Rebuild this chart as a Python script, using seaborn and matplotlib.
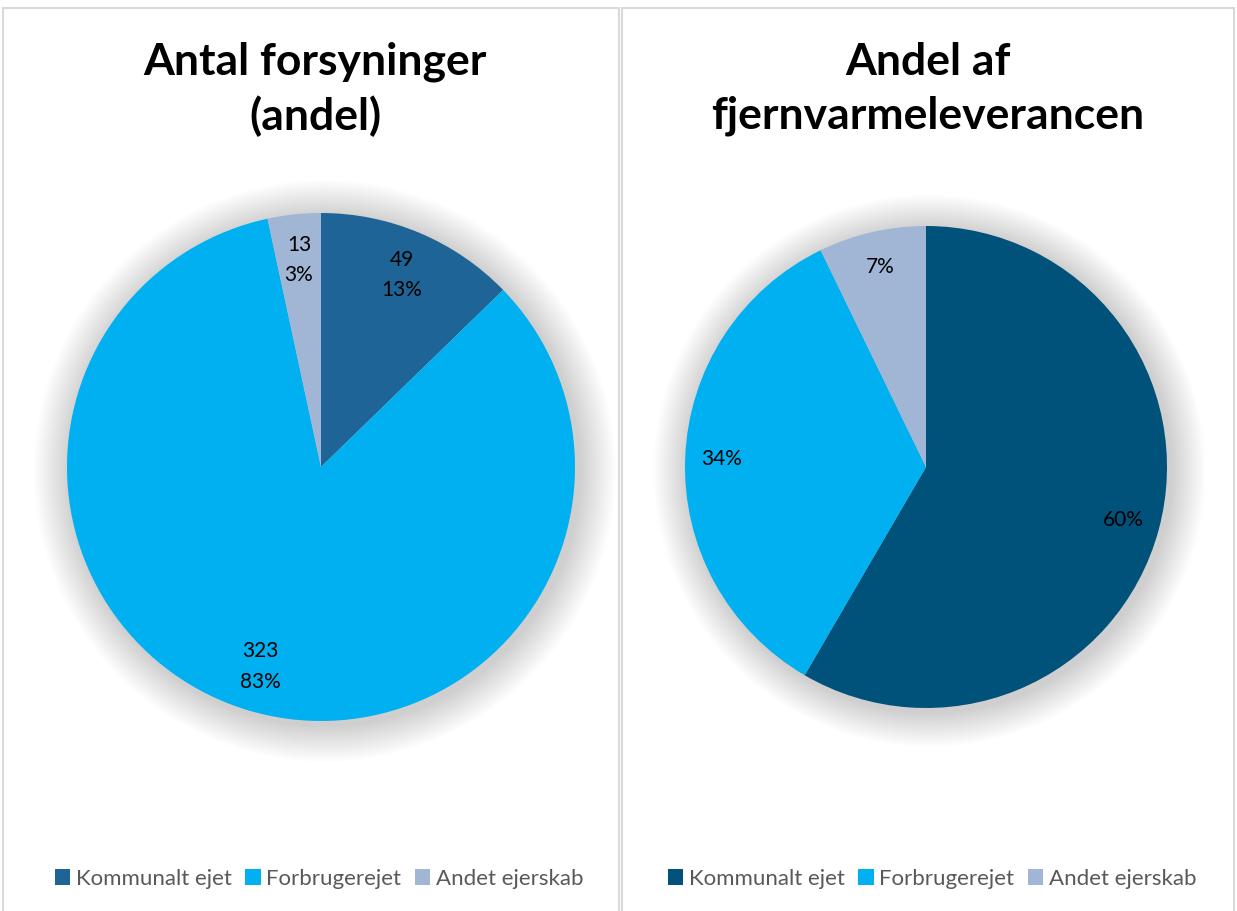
import matplotlib
matplotlib.use("Agg")
import matplotlib.pyplot as plt
from matplotlib.patches import Circle, Rectangle, Patch
import numpy as np
import seaborn as sns

# data
categories = ["Kommunalt ejet", "Forbrugerejet", "Andet ejerskab"]
left_counts = [49, 323, 13]
left_pct_labels = ["13%", "83%", "3%"]
# slice sizes as drawn in the source chart (labels below are the printed ones)
right_share = [58.4, 34.4, 7.2]
right_pct_labels = ["60%", "34%", "7%"]

left_title = "Antal forsyninger\n(andel)"
right_title = "Andel af\nfjernvarmeleverancen"

left_colors = ["#1F6496", "#00B0F0", "#A0B6D4"]
right_colors = ["#00527A", "#00B0F0", "#A0B6D4"]

sns.set_theme(style="white")
plt.rcParams["font.family"] = ["Lato", "DejaVu Sans"]

W, H = 1237, 911
fig = plt.figure(figsize=(W / 100, H / 100), dpi=100)
fig.patch.set_facecolor("white")

# panel borders
for x0, x1 in [(3, 619), (622, 1234)]:
    fig.patches.append(Rectangle((x0 / W, -0.01), (x1 - x0) / W, (H - 8) / H + 0.01,
                                 transform=fig.transFigure, fill=False,
                                 edgecolor="#D9D9D9", linewidth=1.5))


def draw_pie(cx, cy, r, values, colors, labels, title, tcx, dist):
    ax = fig.add_axes([(cx - r) / W, (H - cy - r) / H, 2 * r / W, 2 * r / H])
    # soft shadow
    for i in range(16):
        ax.add_patch(Circle((0.015, -0.015), 1.0 + 0.009 * (16 - i), color="#000000",
                            alpha=0.013, linewidth=0, clip_on=False, zorder=0))
    wedges, _ = ax.pie(values, colors=colors, startangle=90, counterclock=False,
                       wedgeprops=dict(linewidth=0))
    for w in wedges:
        w.set_zorder(2)
    for w, lab in zip(wedges, labels):
        ang = np.deg2rad((w.theta1 + w.theta2) / 2)
        ax.text(dist * np.cos(ang), dist * np.sin(ang), lab, ha="center", va="center",
                fontsize=15, color="black", linespacing=1.65, zorder=3)
    ax.set_xlim(-1, 1)
    ax.set_ylim(-1, 1)
    ax.set_aspect("equal")
    ax.axis("off")
    fig.text(tcx / W, 1 - 89 / H, title, ha="center", va="center", fontsize=32,
             fontweight="bold", color="black", linespacing=1.4)
    return ax


ax1 = draw_pie(321, 467, 254, left_counts, left_colors,
               [f"{c}\n{p}" for c, p in zip(left_counts, left_pct_labels)],
               left_title, 315, 0.82)
ax2 = draw_pie(926, 467, 241, right_share, right_colors, right_pct_labels,
               right_title, 928, 0.85)

for colors, lx in [(left_colors, 319), (right_colors, 932)]:
    handles = [Patch(facecolor=c, edgecolor="none") for c in colors]
    fig.legend(handles, categories, loc="center", bbox_to_anchor=(lx / W, 1 - 879 / H),
               ncol=3, frameon=False, fontsize=16, handlelength=0.7, handleheight=0.7,
               handletextpad=0.25, columnspacing=0.6, labelcolor="#595959")

fig.savefig("out.png", dpi=100)
